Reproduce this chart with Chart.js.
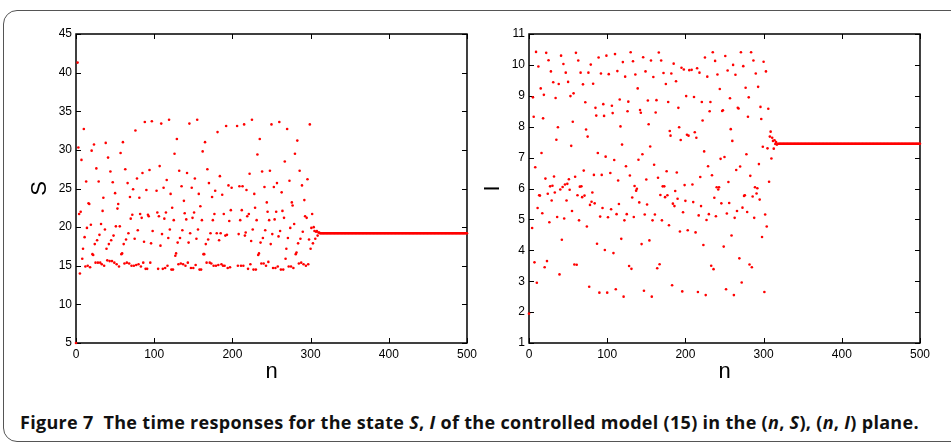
<!DOCTYPE html>
<html>
<head>
<meta charset="utf-8">
<script src="https://cdn.jsdelivr.net/npm/chart.js@4.4.1/dist/chart.umd.min.js"></script>
<style>
  body { margin: 0; background: #fff; }
  #figure { position: relative; width: 951px; height: 446px; overflow: hidden; background: #fff; }
  #frame { position: absolute; left: 3px; top: 10px; width: 1000px; height: 430px; border: 1px solid #555; border-radius: 14px; }
  canvas { position: absolute; top: 0; }
  #caption { position: absolute; left: 20px; top: 410px; line-height: 20px; font: bold 18px 'Open Sans', sans-serif; letter-spacing: 0.3px; white-space: nowrap; color: #111; }
</style>
</head>
<body>
<div id="figure">
  <div id="frame"></div>
  <canvas id="chartS" width="480" height="400" style="left:1px"></canvas>
  <canvas id="chartI" width="480" height="400" style="left:454px"></canvas>
  <div id="caption">Figure 7&nbsp; The time responses for the state <i>S</i>, <i>I</i> of the controlled model (15) in the (<i>n</i>, <i>S</i>), (<i>n</i>, <i>I</i>) plane.</div>
</div>
<script>
// n runs 0..500, one value per step; null = step not plotted
const N_END = 500;
const X_TICKS = [0, 100, 200, 300, 400, 500];
const S_TICKS = [5, 10, 15, 20, 25, 30, 35, 40, 45];
const I_TICKS = [1, 2, 3, 4, 5, 6, 7, 8, 9, 10, 11];

// S(n) for n = 0..316, after that S stays at S_SETTLED
const S_VALUES = [
  5.0, null,
  41.3, 30.3, 21.7, 14.0, 22.0, 28.7, 15.9, 17.2, 32.7, 18.7,
  14.9, 25.9, 19.9, 15.0, 23.1, 23.0, 14.8, 20.3, 29.9, 16.5,
  16.4, 30.7, 17.8, 15.4, 27.6, 18.3, 15.4, 25.9, 19.0, 15.4,
  20.4, 15.2, 22.1, 23.8, 15.0, 19.7, 30.9, 17.2, 15.7, 29.0,
  17.8, 15.6, 27.2, 18.3, 15.6, 25.8, 18.9, 15.4, 24.4, 20.1,
  15.2, 22.4, 23.0, 14.9, 20.1, 29.6, 16.5, 16.6, 31.0, 17.8,
  15.3, 27.5, 18.4, 15.4, 25.7, 19.2, 15.3, 23.9, 21.1, 15.0,
  21.6, 24.9, 15.0, 18.5, 32.5, 15.1, 26.3, 19.6, 15.2, 23.8,
  21.7, 14.9, 21.2, 27.0, 15.4, 18.1, 33.6, 14.6, 24.8, 14.6,
  21.6, 21.4, 27.4, 15.4, 17.9, 33.7, 19.5,
  null, null, null, null,
  24.7, 21.9, 14.6, 21.4, 27.9, 17.6, 33.4, 19.1, 14.6, 25.1,
  21.1, 14.7, 21.9, 26.1, 15.0, 18.6, 33.9, 19.7, 24.3, 14.5,
  22.5, 14.5, 20.9, 29.5, 16.3, 16.6, 31.4, 18.0, 15.2, 27.3,
  18.6, 15.3, 25.3, 19.6, 15.2, 23.4, 21.8, 15.0, 21.0, 27.0,
  15.4, 18.0, 33.4, 19.2, 14.7, 25.1, 21.2, 14.7, 21.9, 26.3,
  15.1, 18.5, 33.9, 19.7, 24.3, 14.5, 22.7, 14.5, 20.9, 29.8,
  16.5, 16.5, 31.0, 17.8, 15.4, 27.5, 18.4, 25.7, 15.4, 19.2,
  15.3, 23.9, 20.9, 15.0, 21.7, 24.7, 15.0, 19.2, 32.3, 15.1,
  18.3, 26.6, 19.2, 15.2, 24.2, 15.0, 21.7, 15.0, 18.9, 33.1,
  19.0, 14.7, 25.4, 20.8, 14.8, 22.2, 25.1,
  null, null, null, null, null, null,
  33.1, 15.0, 19.1, 25.3, 20.9, 15.0, 22.2, 25.3, 15.0, 33.3,
  18.9, 19.3, 24.8, 21.4, 14.6, 21.7, 26.9, 15.2, 18.2, 33.9,
  19.7, 14.5, 24.3, 22.5, 14.5, 20.9, 29.4, 16.4, 16.6, 31.4,
  18.0, 15.3, 27.2, 18.6, 15.3, 25.2, 19.6, 15.0, 23.2, 22.0,
  15.5, 20.9, 27.3, 17.8, 33.3, 19.1, 14.7, 25.2, 21.0, 14.7,
  22.0, 25.7, 14.9, 18.8, 33.6, 19.5, 14.5, 24.5, 22.1, 14.5,
  21.2, 28.5, 15.9, 17.2, 32.7, 18.6, 14.9, 26.0, 19.9, 14.9,
  23.2, 22.8, 14.7, 20.4, 29.5, 16.5, 16.7, 31.2, 17.9, 15.3,
  27.3, 18.5, 15.4, 25.4, 19.4, 15.2, 23.5, 21.4, 15.0, 21.2,
  26.2, 15.2, 18.4, 33.3, 17.2, 19.9, 21.7, 17.9, 20.0, 19.5,
  18.5, 19.4, 19.5, 18.9, 19.3, 19.3, 19.2, 19.2, 19.2, 19.2, 19.2
];
const S_SETTLED = 19.2;

// I(n) for n = 0..318, after that I stays at I_SETTLED
const I_VALUES = [
  1.95, null, null, null,
  4.72, 8.95, 8.32, 3.61, 6.69, 10.42, 2.95, 5.37, 9.95, 5.78,
  5.77, 9.24, 7.15, 5.2, 8.27, 9.03, 3.45, 6.32, 10.39, 3.65,
  5.83, 10.15, 4.91, 6.07, 9.79, 5.61, 6.09, 9.44, 6.39, 5.87,
  8.93, 7.58, 5.08, 7.98, 9.38, 3.22, 5.97, 10.3, 4.34, 6.05,
  10.03, 5.03, 6.13, 9.75, 5.61, 6.15, 9.45, 6.3, 5.96, 8.99,
  7.38, 5.27, 8.16, 9.08, 3.54, 6.38, 10.39, 3.53, 5.78, 10.14,
  4.97, 6.06, 9.75, 6.07, 5.72, 9.37, 6.58, 5.77, 8.79, 7.91,
  4.77, 7.68, 9.75, 2.82, 5.47, 10.01, 5.57, 5.87, 9.39, 6.44,
  5.52, 8.61, 8.36, 4.21, 7.15, 10.24, 2.63, 5.09, 9.72, 6.44,
  5.37, 8.73, 8.35, 4.01, 7.03, 10.3, 2.63, 5.07, 9.7,
  null,
  6.5, 5.33, 8.68, 8.44, 3.91, 6.92, 10.35, 2.74, 5.17, 9.8,
  6.26, 5.5, 8.88, 8.01, 4.37, 7.42, 10.09, 2.5, 4.97, 9.62,
  6.72, 5.17, 8.5, 8.81, 3.49, 6.42, 10.41, 3.4, 5.71, 10.12,
  5.08, 6.08, 9.69, 5.93, 5.99, 9.24, 6.93, 5.55, 8.54, 8.45,
  4.2, 7.11, 10.25, 2.69, 5.16, 9.79, 6.29, 5.48, 8.85, 8.08,
  4.32, 7.36, 10.14, 2.5, 4.97, 9.61, 6.77, 5.16, 8.46, 8.86,
  3.42, 6.35, 10.4, 3.55, 5.79, 10.14, 4.97, 6.07, 9.74, 6.07,
  5.72, 9.38, 6.56, 5.78, 8.8, 4.81, 7.86, 7.71, 9.72, 2.87,
  5.51, 10.04, 5.43, 5.92, 9.47, 6.52, 5.67, 8.61, 7.98, 4.61,
  7.57, 9.91, 2.67, 5.23, 9.85, 6.11, 5.6, 8.99, 7.74, 4.65,
  7.71, 9.83,
  null, null,
  9.84, 6.13, 5.56, 8.96, 7.82, 4.58, 7.64, 9.89, 2.65, 5.13,
  9.75, 6.37, 5.43, 8.8, 8.2, 4.17, 7.2, 10.24, 2.55, 4.98,
  9.62, 6.72, 5.17, 8.5, 8.8, 3.5, 6.43, 10.41, 3.39, 5.7,
  10.13, 5.1, 6.04, 9.69, 5.97, 6.04, 9.22, 6.96, 5.52, 8.51,
  8.53, 4.12, 7.02, 10.29, 2.74, 5.19, 9.82, 6.21, 5.53, 8.92,
  7.92, 4.48, 7.54, 10.0, 2.55, 5.05, 9.68, 6.6, 5.27, 8.61,
  8.59, 3.74, 6.71, 10.41, 2.96, 5.38, 9.96, 5.76, 5.78, 9.26,
  7.11, 5.24, 8.32, 8.95, 3.54, 6.41, 10.41, 3.45, 5.74, 10.14,
  5.05, 6.04, 9.72, 5.84, 6.01, 9.29, 6.79, 5.64, 8.64, 8.25,
  4.43, 7.35, 10.1, 2.65, 5.16, 9.79, 4.77, 7.3, 8.58, 6.22,
  7.68, 7.84, 6.97, 7.64, 7.54, 7.29, 7.56, 7.44, 7.5, 7.42,
  7.44
];
const I_SETTLED = 7.45;

const TICK_FONT = { family: "'Liberation Sans', Arial, sans-serif", size: 12 };
const TITLE_FONT = { family: "'Liberation Sans', Arial, sans-serif", size: 22 };

function toPoints(values, settled) {
  const pts = [];
  values.forEach((v, n) => {
    if (v !== null) pts.push({ x: n, y: v });
  });
  // fixed point reached: same value until the end of the run
  for (let n = values.length; n <= N_END; n++) pts.push({ x: n, y: settled });
  return pts;
}

// box around the plot with inward ticks on all four sides
const boxTicks = {
  id: 'boxTicks',
  beforeDatasetsDraw(chart) {
    const { ctx, chartArea: a, scales } = chart;
    const len = 5;
    ctx.save();
    ctx.strokeStyle = '#000';
    ctx.lineWidth = 1.5;
    ctx.strokeRect(a.left, a.top, a.right - a.left, a.bottom - a.top);
    ctx.lineWidth = 1;
    ctx.beginPath();
    scales.x.ticks.forEach(t => {
      const px = Math.round(scales.x.getPixelForValue(t.value)) + 0.5;
      ctx.moveTo(px, a.bottom); ctx.lineTo(px, a.bottom - len);
      ctx.moveTo(px, a.top); ctx.lineTo(px, a.top + len);
    });
    scales.y.ticks.forEach(t => {
      const py = Math.round(scales.y.getPixelForValue(t.value)) + 0.5;
      ctx.moveTo(a.left, py); ctx.lineTo(a.left + len, py);
      ctx.moveTo(a.right, py); ctx.lineTo(a.right - len, py);
    });
    ctx.stroke();
    ctx.restore();
  }
};

function makeChart(id, values, settled, yTicks, yLabel) {
  const ctx = document.getElementById(id).getContext('2d');
  return new Chart(ctx, {
    type: 'scatter',
    data: {
      datasets: [{
        data: toPoints(values, settled),
        backgroundColor: '#ff0000',
        borderWidth: 0,
        pointRadius: 1.3,
        pointHoverRadius: 1.3,
        clip: false
      }]
    },
    options: {
      responsive: false,
      animation: false,
      events: [],
      layout: { padding: { top: 34, right: 12, left: 0, bottom: 0 } },
      plugins: { legend: { display: false }, tooltip: { enabled: false } },
      scales: {
        x: {
          type: 'linear',
          min: 0,
          max: N_END,
          afterBuildTicks: s => { s.ticks = X_TICKS.map(v => ({ value: v })); },
          afterFit: s => { s.height = 57; },
          grid: { display: false, drawTicks: false },
          border: { display: false },
          ticks: { font: TICK_FONT, color: '#000', padding: 4, maxRotation: 0 },
          title: { display: true, text: 'n', font: TITLE_FONT, color: '#000', padding: { top: 0, bottom: 15 } }
        },
        y: {
          type: 'linear',
          min: yTicks[0],
          max: yTicks[yTicks.length - 1],
          afterBuildTicks: s => { s.ticks = yTicks.map(v => ({ value: v })); },
          afterFit: s => { s.width = 75; },
          grid: { display: false, drawTicks: false },
          border: { display: false },
          ticks: { font: TICK_FONT, color: '#000', padding: 4 },
          title: { display: true, text: yLabel, font: TITLE_FONT, color: '#000', padding: { top: 26, bottom: 0 } }
        }
      }
    },
    plugins: [boxTicks]
  });
}

makeChart('chartS', S_VALUES, S_SETTLED, S_TICKS, 'S');
makeChart('chartI', I_VALUES, I_SETTLED, I_TICKS, 'I');
</script>
</body>
</html>
